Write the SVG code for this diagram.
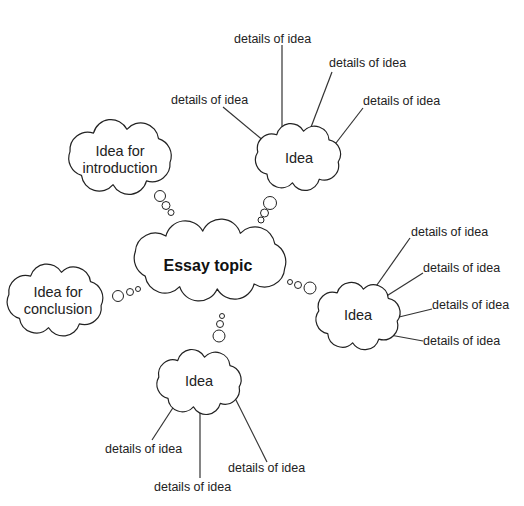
<svg xmlns="http://www.w3.org/2000/svg" width="524" height="506" viewBox="0 0 524 506">
<style>
.cloud{fill:#fff;stroke:#222;stroke-width:1.2;stroke-linejoin:round}
.bub{fill:#fff;stroke:#222;stroke-width:1}
.ln{stroke:#333;stroke-width:1.2;fill:none}
.det{font-family:"Liberation Sans",Arial,sans-serif;font-size:12.5px;fill:#222}
.lab{font-family:"Liberation Sans",Arial,sans-serif;font-size:14.5px;fill:#222;text-anchor:middle}
.main{font-family:"Liberation Sans",Arial,sans-serif;font-size:16px;font-weight:bold;fill:#111;text-anchor:middle}
</style>
<rect width="524" height="506" fill="#fff"/>
<g id="connectors">
<line class="ln" x1="223" y1="107" x2="265" y2="142"/>
<line class="ln" x1="282" y1="45" x2="282" y2="140"/>
<line class="ln" x1="332" y1="72" x2="308" y2="135"/>
<line class="ln" x1="363" y1="108" x2="336" y2="143"/>
<line class="ln" x1="410" y1="238" x2="372" y2="292"/>
<line class="ln" x1="423" y1="273" x2="385" y2="297"/>
<line class="ln" x1="432" y1="309" x2="395" y2="318"/>
<line class="ln" x1="423" y1="341" x2="390" y2="335"/>
<line class="ln" x1="152" y1="440" x2="178" y2="400"/>
<line class="ln" x1="200" y1="478" x2="200" y2="395"/>
<line class="ln" x1="267" y1="462" x2="233" y2="394"/>
<circle class="bub" cx="160" cy="196" r="5.5"/>
<circle class="bub" cx="166" cy="205.5" r="4"/>
<circle class="bub" cx="171" cy="212.5" r="3"/>
<circle class="bub" cx="270" cy="203" r="6.5"/>
<circle class="bub" cx="264.5" cy="213" r="4"/>
<circle class="bub" cx="261" cy="220" r="3"/>
<circle class="bub" cx="118" cy="296" r="5.5"/>
<circle class="bub" cx="130" cy="292" r="3.5"/>
<circle class="bub" cx="138" cy="289" r="2.5"/>
<circle class="bub" cx="290" cy="282" r="2.5"/>
<circle class="bub" cx="298" cy="285" r="3.5"/>
<circle class="bub" cx="310" cy="288" r="6"/>
<circle class="bub" cx="222" cy="316" r="2.5"/>
<circle class="bub" cx="220" cy="324" r="3.5"/>
<circle class="bub" cx="219" cy="336" r="6"/>
</g>
<g id="essay-topic">
<path class="cloud" d="M284.7,268.3 A20,20 0 0 1 254.1,283.9 A20,20 0 0 1 217.2,288.9 A20,20 0 0 1 179.7,286.7 A20,20 0 0 1 145.2,276.1 A20,20 0 0 1 135.3,251.7 A20,20 0 0 1 165.9,236.1 A20,20 0 0 1 202.8,231.1 A20,20 0 0 1 240.3,233.3 A20,20 0 0 1 274.8,243.9 A20,20 0 0 1 284.7,268.3 Z"/>
<text class="main" x="208" y="271">Essay topic</text>
</g>
<g id="idea-top">
<path class="cloud" d="M338.2,162 A14.5,14.5 0 0 1 319.3,179.2 A14.5,14.5 0 0 1 292.4,182.8 A14.5,14.5 0 0 1 267,174.1 A14.5,14.5 0 0 1 257.8,152 A14.5,14.5 0 0 1 276.7,134.8 A14.5,14.5 0 0 1 303.6,131.2 A14.5,14.5 0 0 1 329,139.9 A14.5,14.5 0 0 1 338.2,162 Z"/>
<text class="lab" x="299" y="163">Idea</text>
</g>
<g id="idea-introduction">
<path class="cloud" d="M170,162.4 A18,18 0 0 1 146.5,180.9 A18,18 0 0 1 113.1,184.7 A18,18 0 0 1 81.5,175.4 A18,18 0 0 1 70,151.6 A18,18 0 0 1 93.5,133.1 A18,18 0 0 1 126.9,129.3 A18,18 0 0 1 158.5,138.6 A18,18 0 0 1 170,162.4 Z"/>
<text class="lab" x="120" y="156">Idea for</text>
<text class="lab" x="120" y="173">introduction</text>
</g>
<g id="idea-conclusion">
<path class="cloud" d="M101.1,305.4 A17,17 0 0 1 79.4,323.9 A17,17 0 0 1 48.6,327.7 A17,17 0 0 1 19.5,318.4 A17,17 0 0 1 8.9,294.6 A17,17 0 0 1 30.6,276.1 A17,17 0 0 1 61.4,272.3 A17,17 0 0 1 90.5,281.6 A17,17 0 0 1 101.1,305.4 Z"/>
<text class="lab" x="58" y="297">Idea for</text>
<text class="lab" x="58" y="314">conclusion</text>
</g>
<g id="idea-right">
<path class="cloud" d="M397.2,321.2 A14.5,14.5 0 0 1 378.8,339.1 A14.5,14.5 0 0 1 352.6,342.8 A14.5,14.5 0 0 1 327.8,333.7 A14.5,14.5 0 0 1 318.8,310.8 A14.5,14.5 0 0 1 337.2,292.9 A14.5,14.5 0 0 1 363.4,289.2 A14.5,14.5 0 0 1 388.2,298.3 A14.5,14.5 0 0 1 397.2,321.2 Z"/>
<text class="lab" x="358" y="320">Idea</text>
</g>
<g id="idea-bottom">
<path class="cloud" d="M239.2,386.9 A14.5,14.5 0 0 1 220.3,403.4 A14.5,14.5 0 0 1 193.4,406.8 A14.5,14.5 0 0 1 168,398.4 A14.5,14.5 0 0 1 158.8,377.1 A14.5,14.5 0 0 1 177.7,360.6 A14.5,14.5 0 0 1 204.6,357.2 A14.5,14.5 0 0 1 230,365.6 A14.5,14.5 0 0 1 239.2,386.9 Z"/>
<text class="lab" x="199" y="386">Idea</text>
</g>
<g id="details">
<text class="det" x="234" y="43">details of idea</text>
<text class="det" x="329" y="67">details of idea</text>
<text class="det" x="171" y="104">details of idea</text>
<text class="det" x="363" y="105">details of idea</text>
<text class="det" x="411" y="236">details of idea</text>
<text class="det" x="423" y="272">details of idea</text>
<text class="det" x="432" y="309">details of idea</text>
<text class="det" x="423" y="345">details of idea</text>
<text class="det" x="105" y="453">details of idea</text>
<text class="det" x="154" y="491">details of idea</text>
<text class="det" x="228" y="472">details of idea</text>
</g>
</svg>
